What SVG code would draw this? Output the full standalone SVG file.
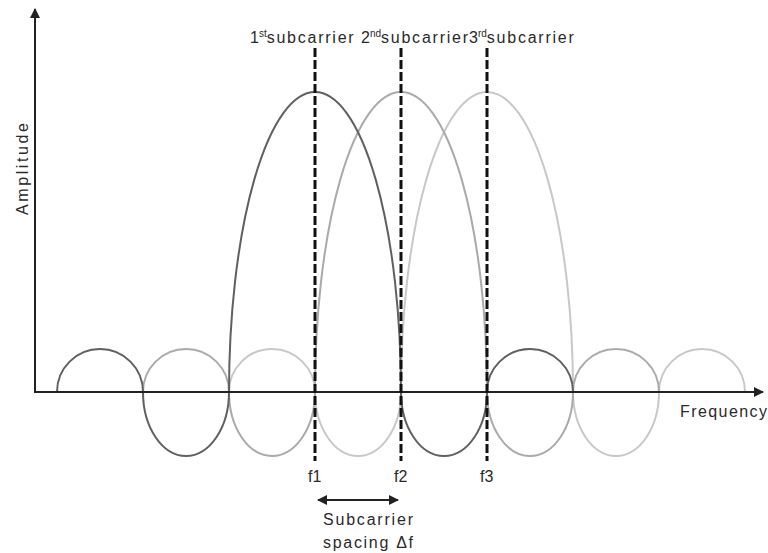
<svg xmlns="http://www.w3.org/2000/svg" width="768" height="553" viewBox="0 0 768 553">
<defs>
<marker id="arr" viewBox="0 0 10 10" refX="9" refY="5" markerWidth="5" markerHeight="5" orient="auto-start-reverse" markerUnits="strokeWidth">
<path d="M0,0 L10,5 L0,10 Z" fill="#222"/>
</marker>
<style>
.t{font-family:"Liberation Sans",Arial,sans-serif;fill:#2a2a2a;}
.lbl{font-size:16px;}
.top{font-size:16px;}
.sup{font-size:10px;}
.c{fill:none;stroke-width:2;}
.s1{stroke:#606060;}
.s2{stroke:#aaaaaa;}
.s3{stroke:#c8c8c8;}
.dash{stroke:#111;stroke-width:3;stroke-dasharray:9 3;fill:none;}
.ax{stroke:#222;stroke-width:2;fill:none;}
</style>
</defs>
<g id="subcarrier3">
<path class="c s3" d="M229,392 A43,43 0 0 1 315,392 A43,64 0 0 0 401,392 A86,300 0 0 1 573,392 A43,64 0 0 0 659,392 A43,43 0 0 1 745,392"/>
</g>
<g id="subcarrier2">
<path class="c s2" d="M143,392 A43,43 0 0 1 229,392 A43,64 0 0 0 315,392 A86,300 0 0 1 487,392 A43,64 0 0 0 573,392 A43,43 0 0 1 659,392"/>
</g>
<g id="subcarrier1">
<path class="c s1" d="M57,392 A43,43 0 0 1 143,392 A43,64 0 0 0 229,392 A86,300 0 0 1 401,392 A43,64 0 0 0 487,392 A43,43 0 0 1 573,392"/>
</g>
<g id="connectors">
<line class="ax" x1="35" y1="393" x2="35" y2="9" marker-end="url(#arr)"/>
<line class="ax" x1="34" y1="392" x2="763" y2="392" marker-end="url(#arr)"/>
<line class="dash" x1="315" y1="48" x2="315" y2="461"/>
<line class="dash" x1="401" y1="48" x2="401" y2="461"/>
<line class="dash" x1="487" y1="48" x2="487" y2="461"/>
<line class="ax" x1="318" y1="500" x2="398" y2="500" marker-start="url(#arr)" marker-end="url(#arr)"/>
</g>
<g id="labels">
<text class="t top" x="250" y="43">1<tspan class="sup" dy="-6">st</tspan><tspan dy="6" textLength="87" lengthAdjust="spacing">subcarrier</tspan></text>
<text class="t top" x="361" y="43">2<tspan class="sup" dy="-6">nd</tspan><tspan dy="6" textLength="87" lengthAdjust="spacing">subcarrier</tspan></text>
<text class="t top" x="469" y="43">3<tspan class="sup" dy="-6">rd</tspan><tspan dy="6" textLength="87" lengthAdjust="spacing">subcarrier</tspan></text>
<text class="t lbl" x="308" y="482">f1</text>
<text class="t lbl" x="394" y="482">f2</text>
<text class="t lbl" x="480" y="482">f3</text>
<text class="t lbl" x="323" y="525" textLength="90" lengthAdjust="spacing">Subcarrier</text>
<text class="t lbl" x="323" y="548" textLength="90" lengthAdjust="spacing">spacing Δf</text>
<text class="t lbl" x="680" y="417" textLength="87" lengthAdjust="spacing">Frequency</text>
<text class="t lbl" transform="translate(28,215) rotate(-90)" x="0" y="0" textLength="92" lengthAdjust="spacing">Amplitude</text>
</g>
</svg>
